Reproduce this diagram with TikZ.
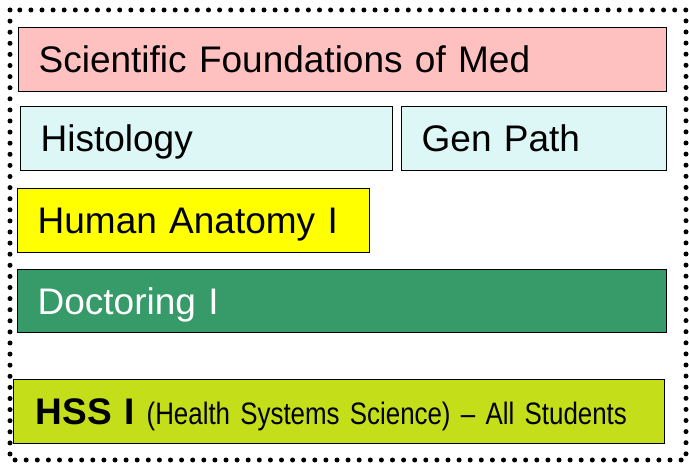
\documentclass[tikz,border=0pt]{standalone}
\usepackage{fontspec}
\setmainfont{Liberation Sans}
\definecolor{sfmpink}{HTML}{FFC0C0}
\definecolor{histcyan}{HTML}{DDF7F7}
\definecolor{anatyellow}{HTML}{FFFF00}
\definecolor{docgreen}{HTML}{369A69}
\definecolor{hsslime}{HTML}{C4DE19}

\begin{document}
\begin{tikzpicture}[x=1pt,y=1pt,
    course/.style={draw=black, line width=1.3pt, anchor=north west,
      inner xsep=20pt, inner ysep=0pt, align=left, text height=27pt, text depth=1pt,
      font=\fontsize{37}{40}\selectfont},
    frame/.style={line width=5pt, line cap=round, dash pattern=on 0pt off 11.1pt}]

  \useasboundingbox (0,0) rectangle (689,464);

  % dotted outer frame
  \draw[frame] (10,454) rectangle (686,4);

  \node[course, fill=sfmpink, text width=608pt, minimum height=64pt] (sfm) at (18,437)
    {Scientific Foundations of Med};

  \node[course, fill=histcyan, text width=332pt, minimum height=64pt] (histo) at (20,358)
    {Histology};
  \node[course, fill=histcyan, text width=225pt, minimum height=64pt] (genpath) at (401,358)
    {Gen Path};

  \node[course, fill=anatyellow, text width=312pt, minimum height=64pt] (anat) at (17,276)
    {Human Anatomy I};

  \node[course, fill=docgreen, text=white, text width=609pt, minimum height=63pt] (doc) at (17,195)
    {Doctoring I};

  \node[course, fill=hsslime, inner xsep=22pt, text width=607pt, minimum height=64pt] (hss) at (13,85)
    {\textbf{HSS I} \scalebox{0.835}[1]{\fontsize{31}{34}\selectfont (Health Systems Science) -- All Students}};
\end{tikzpicture}
\end{document}
